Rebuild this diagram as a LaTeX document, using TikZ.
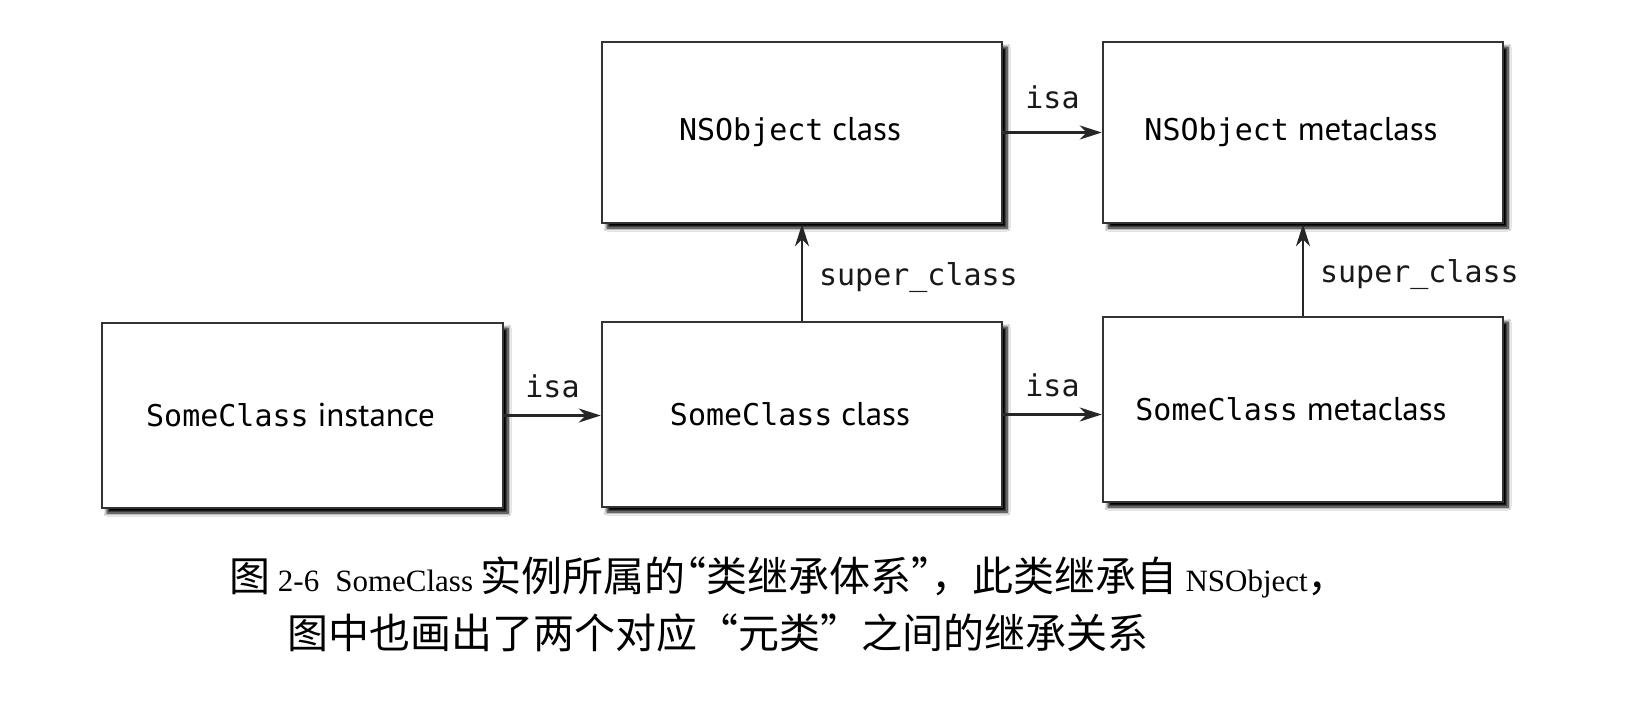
\documentclass[tikz,border=0pt]{standalone}
\usepackage{fontspec}
\setmainfont{Liberation Serif}
\newfontfamily\cjk{Noto Sans CJK SC}
\newfontfamily\codefont{DejaVu Sans Mono}
\newfontfamily\boxsans{PT Sans}
\usetikzlibrary{arrows.meta,shadows.blur}
\newcommand\codetxt[1]{{\codefont\fontsize{30}{36}\selectfont #1}}
\newcommand\zh[1]{{\cjk\fontsize{41}{48}\selectfont #1}}
\begin{document}
\begin{tikzpicture}[x=1pt,y=-1pt,
  box/.style={draw=black!80, line width=2.5pt, fill=white, rectangle, inner sep=0pt,
    blur shadow={shadow xshift=5pt,shadow yshift=-5pt,shadow blur radius=3pt,shadow blur steps=8,shadow opacity=100},
    font=\boxsans\fontsize{33}{40}\selectfont,
    execute at end node={\kern24pt}},
  conn/.style={line width=2.2pt, draw=black!85, -{Stealth[length=22pt,width=14pt,inset=7pt]}},
  lab/.style={font=\codefont\fontsize{30}{36}\selectfont, inner sep=0pt, text=black!90},
  captxt/.style={anchor=base west, inner sep=0pt, font=\fontsize{31}{38}\selectfont}
]
\useasboundingbox (0,0) rectangle (1644,704);
\fill[white] (0,0) rectangle (1644,704);

\node[box, minimum width=401pt, minimum height=185pt] (inst) at (302.5,415.5) {\codetxt{SomeClass} instance};
\node[box, minimum width=400pt, minimum height=185pt] (scc) at (802,414.5) {\codetxt{SomeClass} class};
\node[box, minimum width=400pt, minimum height=185pt] (scm) at (1303,409.5) {\codetxt{SomeClass} metaclass};
\node[box, minimum width=400pt, minimum height=181pt] (nsc) at (802,132.5) {\codetxt{NSObject} class};
\node[box, minimum width=400pt, minimum height=181pt] (nsm) at (1303,132.5) {\codetxt{NSObject} metaclass};

\draw[conn] (inst.east) -- (inst.east -| scc.west) node[midway, above=16pt, lab] {isa};
\draw[conn] (scc.east) -- (scc.east -| scm.west) node[midway, above=16pt, lab] {isa};
\draw[conn] (nsc.east) -- (nsc.east -| nsm.west) node[midway, above=22pt, lab] {isa};
\draw[conn] (scc.north) -- (scc.north |- nsc.south) node[pos=0.45, right=16pt, lab] {super\_class};
\draw[conn] (scm.north) -- (scm.north |- nsm.south) node[pos=0.45, right=16pt, lab] {super\_class};

\node[captxt] (cap1) at (229,591) {\zh{图} 2-6\hspace{16pt}SomeClass \zh{实例所属的\kern-0.5em“类继承体系”\kern-0.5em，此类继承自} NSObject\zh{，}};
\node[captxt] (cap2) at (287,648) {\zh{图中也画出了两个对应“元类”之间的继承关系}};
\end{tikzpicture}
\end{document}
